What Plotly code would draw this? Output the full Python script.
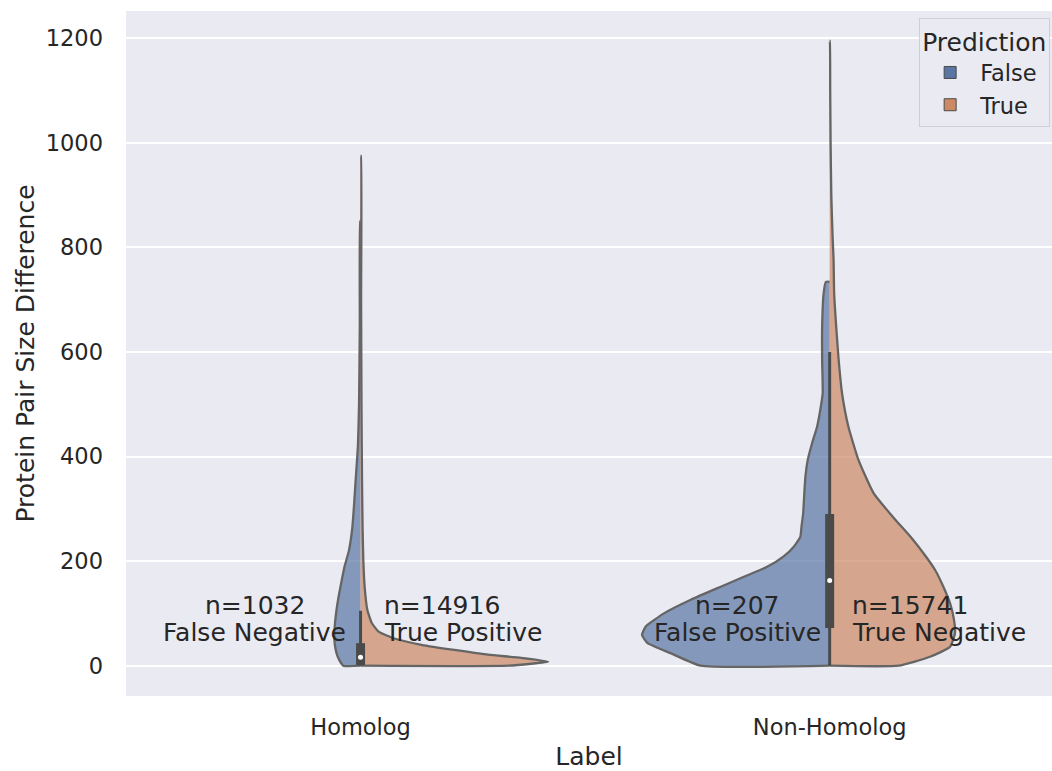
import plotly.graph_objects as go

# ---------------- data ----------------
categories = ["Homolog", "Non-Homolog"]
hue_levels = ["False", "True"]

# density profiles (normalised half-widths, 1 = widest half) at given y values
homolog_false_y = [0, 12, 24, 40, 63, 85, 107, 130, 160, 190, 220, 260, 300, 350, 420, 500, 650, 850]
homolog_false_w = [0.092, 0.115, 0.128, 0.137, 0.14, 0.135, 0.128, 0.118, 0.102, 0.085, 0.062,
                   0.045, 0.036, 0.027, 0.014, 0.008, 0.004, 0.002]

homolog_true_y = [0, 7.7, 15, 21, 30, 40, 52, 65, 82, 107, 150, 200, 260, 350, 500, 700, 975]
homolog_true_w = [0.79, 1.0, 0.856, 0.68, 0.50, 0.325, 0.18, 0.096, 0.059, 0.036, 0.022, 0.015,
                  0.011, 0.008, 0.005, 0.003, 0.002]

nonhomolog_false_y = [0, 24, 43, 59, 75, 100, 126, 151, 170, 189, 209, 228, 247, 266, 292, 330,
                      362, 393, 425, 457, 489, 521, 585, 648, 712, 734]
nonhomolog_false_w = [0.688, 0.848, 0.97, 1.0, 0.98, 0.883, 0.74, 0.58, 0.457, 0.333, 0.245, 0.19,
                      0.156, 0.15, 0.141, 0.135, 0.129, 0.117, 0.094, 0.067, 0.05, 0.037, 0.04,
                      0.04, 0.032, 0.02]

nonhomolog_true_y = [0, 17, 36, 62, 87, 119, 151, 183, 215, 247, 279, 330, 393, 457, 521, 585,
                     648, 712, 776, 818, 897, 1000, 1100, 1195]
nonhomolog_true_w = [0.367, 0.535, 0.642, 0.668, 0.663, 0.642, 0.606, 0.562, 0.50, 0.43, 0.35,
                     0.234, 0.154, 0.10, 0.066, 0.048, 0.035, 0.024, 0.021, 0.016, 0.009, 0.005,
                     0.003, 0.001]

# inner box statistics per category (whisker low, q1, median, q3, whisker high)
box_low = [0, 0]
box_q1 = [1, 72]
box_median = [16, 163]
box_q3 = [43, 290]
box_high = [105, 600]

# counts shown as annotations
counts = [[1032, 14916], [207, 15741]]
outcome_names = [["False Negative", "True Positive"], ["False Positive", "True Negative"]]

profiles = [
    [(homolog_false_y, homolog_false_w), (homolog_true_y, homolog_true_w)],
    [(nonhomolog_false_y, nonhomolog_false_w), (nonhomolog_true_y, nonhomolog_true_w)],
]

# ---------------- styling ----------------
FONT = "DejaVu Sans"
TXT = "#262626"
BG = "#EAEAF2"
solid_cols = ["#5975A4", "#CC8963"]
fill_cols = ["rgba(89,117,164,0.7)", "rgba(204,137,99,0.7)"]
EDGE = "#656565"
INNER = "#4a4a4a"
HALF = 0.4  # max half-width in category units

fig = go.Figure()

# violin halves
for ci, cat in enumerate(categories):
    for hi, hue in enumerate(hue_levels):
        ys, ws = profiles[ci][hi]
        sign = -1 if hi == 0 else 1
        xs = [ci] + [ci + sign * HALF * w for w in ws] + [ci]
        yy = [ys[0]] + list(ys) + [ys[-1]]
        fig.add_trace(go.Scatter(
            x=xs, y=yy, mode="lines", fill="toself",
            fillcolor=fill_cols[hi],
            line=dict(color=EDGE, width=2.3, shape="spline", smoothing=0.45),
            showlegend=False, hoverinfo="skip",
        ))

# inner boxes
for ci, cat in enumerate(categories):
    fig.add_trace(go.Scatter(x=[ci, ci], y=[box_low[ci], box_high[ci]], mode="lines",
                             line=dict(color=INNER, width=3), showlegend=False, hoverinfo="skip"))
    fig.add_trace(go.Scatter(x=[ci, ci], y=[box_q1[ci], box_q3[ci]], mode="lines",
                             line=dict(color=INNER, width=9), showlegend=False, hoverinfo="skip"))
    fig.add_trace(go.Scatter(x=[ci], y=[box_median[ci]], mode="markers",
                             marker=dict(color="white", size=5, line=dict(width=0)),
                             showlegend=False, hoverinfo="skip"))

# legend proxies
for hi, hue in enumerate(hue_levels):
    fig.add_trace(go.Bar(x=[None], y=[None], name=hue,
                         marker=dict(color=solid_cols[hi], line=dict(color="#4a4a4a", width=1))))

# count annotations
left_pos = [-0.226, 0.804]
right_pos = [0.045, 1.043]
for ci in range(len(categories)):
    for hi in range(2):
        x = left_pos[ci] if hi == 0 else right_pos[ci]
        xanchor = "center" if hi == 0 else "left"
        fig.add_annotation(x=x, y=116, text=f"n={counts[ci][hi]}", showarrow=False,
                           xanchor=xanchor, yanchor="middle",
                           font=dict(family=FONT, size=25, color=TXT))
        fig.add_annotation(x=x, y=64, text=outcome_names[ci][hi], showarrow=False,
                           xanchor=xanchor, yanchor="middle",
                           font=dict(family=FONT, size=25, color=TXT))

fig.update_layout(
    width=1052, height=771,
    margin=dict(l=126, r=0, t=11, b=75),
    paper_bgcolor="white", plot_bgcolor=BG,
    font=dict(family=FONT, color=TXT, size=22),
    showlegend=True,
    legend=dict(
        title=dict(text="Prediction", font=dict(family=FONT, size=25, color=TXT)),
        font=dict(family=FONT, size=22.5, color=TXT),
        x=0.998, xanchor="right", y=0.99, yanchor="top",
        bgcolor="rgba(234,234,242,0.8)", bordercolor="#cfcfd6", borderwidth=1,
        tracegroupgap=4, itemwidth=50,
    ),
    xaxis=dict(
        range=[-0.5, 1.474], tickmode="array", tickvals=list(range(len(categories))),
        ticktext=categories, showgrid=False, zeroline=False, showline=False,
        ticks="", ticklabelstandoff=15,
        tickfont=dict(family=FONT, size=22.5, color=TXT),
        title=dict(text="Label", font=dict(family=FONT, size=25, color=TXT), standoff=8),
    ),
    yaxis=dict(
        range=[-58, 1252], tickmode="array", tickvals=[0, 200, 400, 600, 800, 1000, 1200],
        showgrid=True, gridcolor="white", gridwidth=2, zeroline=False, showline=False,
        ticks="", ticklabelstandoff=22,
        tickfont=dict(family=FONT, size=22.5, color=TXT),
        title=dict(text="Protein Pair Size Difference", font=dict(family=FONT, size=25, color=TXT),
                   standoff=3),
    ),
)

fig.write_html("out.html")
